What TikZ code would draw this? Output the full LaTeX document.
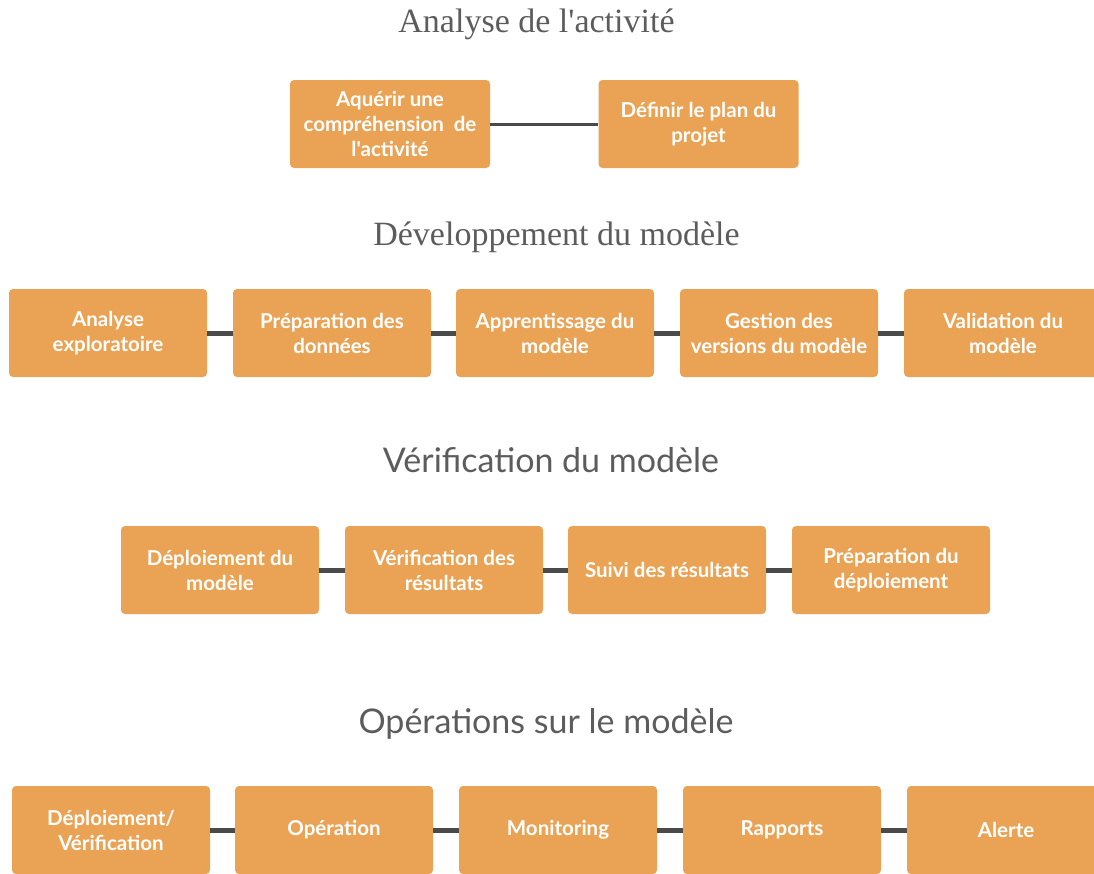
\documentclass[tikz,border=0pt]{standalone}
\usepackage{fontspec}
\newfontfamily\latofont{Lato}
\newfontfamily\serifttl{Liberation Serif}
\definecolor{boxorange}{HTML}{EAA355}
\definecolor{linkgray}{HTML}{4A4A4A}
\definecolor{titlegray}{HTML}{5C5C5C}
\begin{document}
\begin{tikzpicture}[x=1pt,y=-1pt,
  stage/.style={rectangle, rounded corners=4pt, fill=boxorange, draw=none,
    minimum width=198pt, minimum height=88pt, align=center, text=white,
    font=\latofont\bfseries\fontsize{20.5}{25}\selectfont, inner sep=0pt},
  wide/.style={minimum width=200pt},
  link/.style={draw=linkgray, line width=5pt},
  thinlink/.style={draw=linkgray, line width=3pt},
  serifhead/.style={anchor=base, text=titlegray, font=\serifttl\fontsize{34}{40}\selectfont, inner sep=0pt},
  sanshead/.style={anchor=base, text=titlegray, font=\latofont\fontsize{34}{40}\selectfont, inner sep=0pt}]
\useasboundingbox (0,0) rectangle (1094,873);
\begin{scope}
\clip (0,0) rectangle (1094,873);

% Analyse de l'activité
\node[serifhead] (t1) at (536.5,32) {Analyse de l'activité};
\node[stage,wide] (a1) at (390,124) {Aquérir une\\compréhension\ \ de\\l'activité};
\node[stage,wide] (a2) at (698.5,124) {Définir le plan du\\projet};
\draw[thinlink] (a1.east) -- (a2.west);

% Développement du modèle
\node[serifhead] (t2) at (556.5,245) {Développement du modèle};
\node[stage] (d1) at (108,333) {Analyse\\exploratoire};
\node[stage] (d2) at (332,333) {Préparation des\\données};
\node[stage] (d3) at (555,333) {Apprentissage du\\modèle};
\node[stage] (d4) at (779,333) {Gestion des\\versions du modèle};
\node[stage] (d5) at (1003,333) {Validation du\\modèle};
\draw[link] (d1.east) -- (d2.west);
\draw[link] (d2.east) -- (d3.west);
\draw[link] (d3.east) -- (d4.west);
\draw[link] (d4.east) -- (d5.west);

% Vérification du modèle
\node[sanshead] (t3) at (551,472) {Vérification du modèle};
\node[stage] (v1) at (220,570) {Déploiement du\\modèle};
\node[stage] (v2) at (444,570) {Vérification des\\résultats};
\node[stage] (v3) at (667,570) {Suivi des résultats};
\node[stage] (v4) at (891,570) {Préparation du\\déploiement};
\draw[link] (v1.east) -- (v2.west);
\draw[link] (v2.east) -- (v3.west);
\draw[link] (v3.east) -- (v4.west);

% Opérations sur le modèle
\node[sanshead] (t4) at (546,733) {Opérations sur le modèle};
\node[stage] (o1) at (111,830) {Déploiement/\\Vérification};
\node[stage] (o2) at (334,830) {Opération};
\node[stage] (o3) at (558,830) {Monitoring};
\node[stage] (o4) at (782,830) {Rapports};
\node[stage] (o5) at (1006,830) {Alerte};
\draw[link] (o1.east) -- (o2.west);
\draw[link] (o2.east) -- (o3.west);
\draw[link] (o3.east) -- (o4.west);
\draw[link] (o4.east) -- (o5.west);
\end{scope}
\end{tikzpicture}
\end{document}
